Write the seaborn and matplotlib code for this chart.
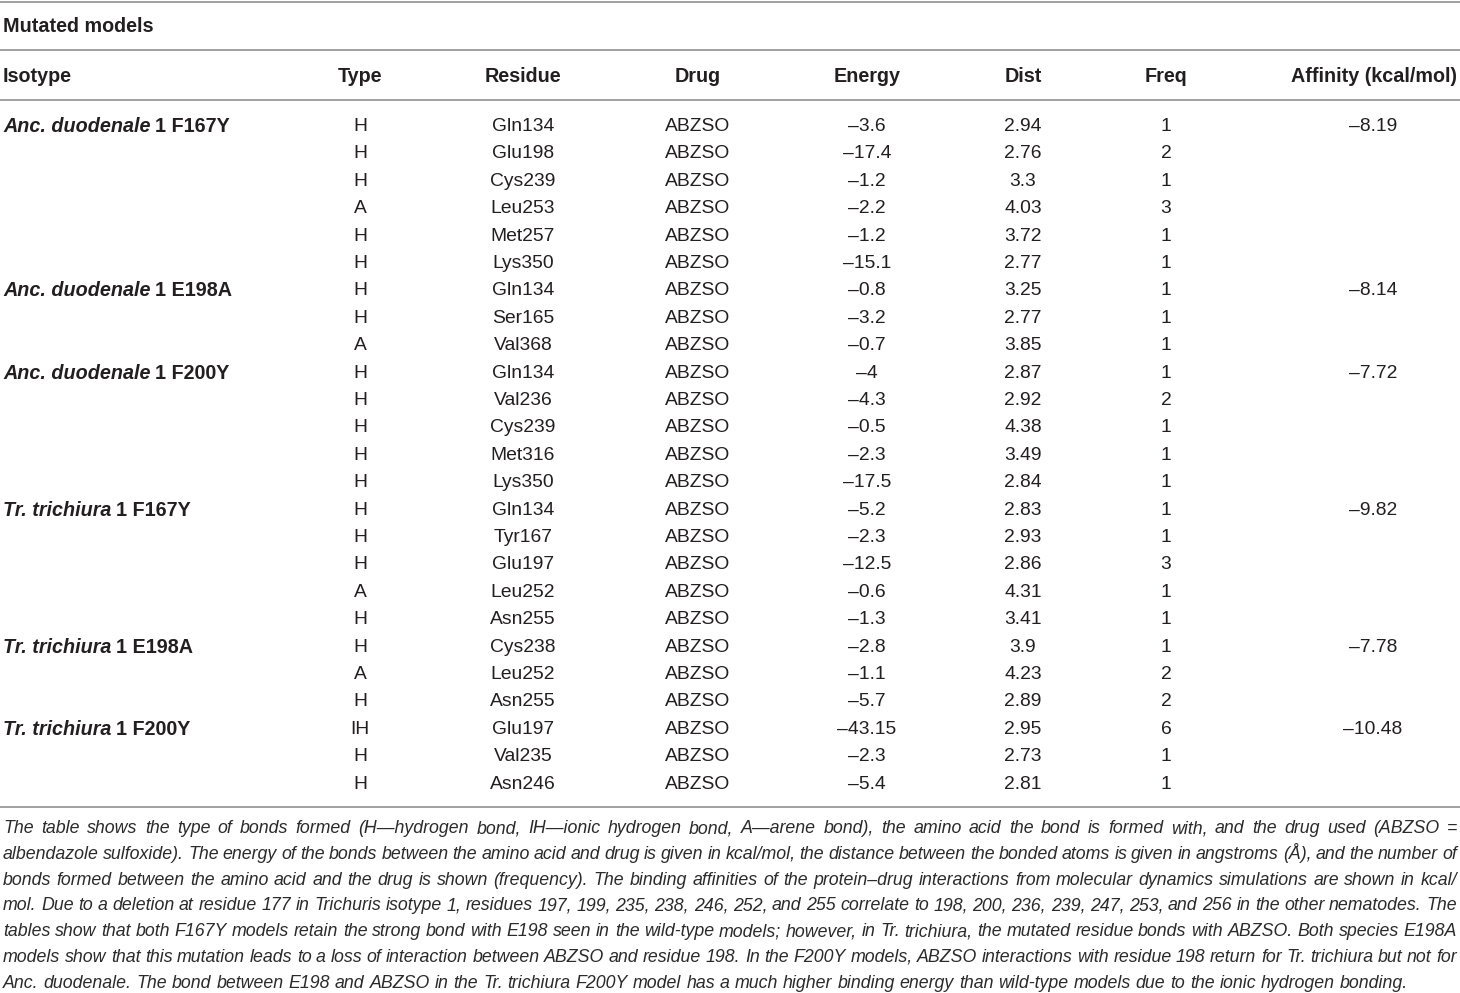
import matplotlib
matplotlib.use("Agg")
import matplotlib.pyplot as plt
import seaborn as sns
import pandas as pd

sns.set_theme(style="white")
plt.rcParams['font.family'] = ['Liberation Sans', 'DejaVu Sans']

# ---------------- data ----------------
title = "Mutated models"
columns = ["Isotype", "Type", "Residue", "Drug", "Energy", "Dist", "Freq", "Affinity (kcal/mol)"]
species = ["Anc. duodenale", "Anc. duodenale", "Anc. duodenale",
           "Tr. trichiura", "Tr. trichiura", "Tr. trichiura"]
isotype_suffix = ["1 F167Y", "1 E198A", "1 F200Y", "1 F167Y", "1 E198A", "1 F200Y"]
group_sizes = [6, 3, 5, 5, 3, 3]
affinity = [-8.19, -8.14, -7.72, -9.82, -7.78, -10.48]

bond_type = ["H", "H", "H", "A", "H", "H",
             "H", "H", "A",
             "H", "H", "H", "H", "H",
             "H", "H", "H", "A", "H",
             "H", "A", "H",
             "IH", "H", "H"]
residue = ["Gln134", "Glu198", "Cys239", "Leu253", "Met257", "Lys350",
           "Gln134", "Ser165", "Val368",
           "Gln134", "Val236", "Cys239", "Met316", "Lys350",
           "Gln134", "Tyr167", "Glu197", "Leu252", "Asn255",
           "Cys238", "Leu252", "Asn255",
           "Glu197", "Val235", "Asn246"]
drug = ["ABZSO"] * 25
energy = [-3.6, -17.4, -1.2, -2.2, -1.2, -15.1,
          -0.8, -3.2, -0.7,
          -4, -4.3, -0.5, -2.3, -17.5,
          -5.2, -2.3, -12.5, -0.6, -1.3,
          -2.8, -1.1, -5.7,
          -43.15, -2.3, -5.4]
dist = [2.94, 2.76, 3.3, 4.03, 3.72, 2.77,
        3.25, 2.77, 3.85,
        2.87, 2.92, 4.38, 3.49, 2.84,
        2.83, 2.93, 2.86, 4.31, 3.41,
        3.9, 4.23, 2.89,
        2.95, 2.73, 2.81]
freq = [1, 2, 1, 3, 1, 1,
        1, 1, 1,
        1, 2, 1, 1, 1,
        1, 1, 3, 1, 1,
        1, 2, 2,
        6, 1, 1]

caption_lines = [
    "The table shows the type of bonds formed (H\u2014hydrogen bond, IH\u2014ionic hydrogen bond, A\u2014arene bond), the amino acid the bond is formed with, and the drug used (ABZSO =",
    "albendazole sulfoxide). The energy of the bonds between the amino acid and drug is given in kcal/mol, the distance between the bonded atoms is given in angstroms (\u00c5), and the number of",
    "bonds formed between the amino acid and the drug is shown (frequency). The binding affinities of the protein\u2013drug interactions from molecular dynamics simulations are shown in kcal/",
    "mol. Due to a deletion at residue 177 in Trichuris isotype 1, residues 197, 199, 235, 238, 246, 252, and 255 correlate to 198, 200, 236, 239, 247, 253, and 256 in the other nematodes. The",
    "tables show that both F167Y models retain the strong bond with E198 seen in the wild-type models; however, in Tr. trichiura, the mutated residue bonds with ABZSO. Both species E198A",
    "models show that this mutation leads to a loss of interaction between ABZSO and residue 198. In the F200Y models, ABZSO interactions with residue 198 return for Tr. trichiura but not for",
    "Anc. duodenale. The bond between E198 and ABZSO in the Tr. trichiura F200Y model has a much higher binding energy than wild-type models due to the ionic hydrogen bonding.",
]

df = pd.DataFrame({"Type": bond_type, "Residue": residue, "Drug": drug,
                   "Energy": energy, "Dist": dist, "Freq": freq})


def fmt(v):
    return f"{v:g}".replace("-", "\u2013")


# ---------------- layout ----------------
W, H = 1460, 993
fig = plt.figure(figsize=(W / 100, H / 100), dpi=100)
ax = fig.add_axes([0, 0, 1, 1])
ax.set_xlim(0, W)
ax.set_ylim(H, 0)
ax.axis("off")
renderer = fig.canvas.get_renderer()

txt_col = "#231f20"
cap_col = "#2b2b2b"
rule_col = "#9a9a9a"
left, right = 3, 1457
fs_body = 13.9
fs_bold = 14.2

col_x = {"Type": 360, "Residue": 523, "Drug": 698, "Energy": 867,
         "Dist": 1023, "Freq": 1166}
aff_x = 1373

row0, pitch = 126.5, 27.4
header_y = 76.5
title_y = 26.8

for yy in (1.5, 50, 99.5, 806.5):
    ax.axhline(yy, color=rule_col, lw=1.3, xmin=0, xmax=1)

ax.text(left, title_y, title, fontsize=fs_bold, fontweight="bold",
        color=txt_col, ha="left", va="center")

# header
ax.text(left, header_y, columns[0], fontsize=fs_bold, fontweight="bold",
        color=txt_col, ha="left", va="center")
for c in ["Type", "Residue", "Drug", "Energy", "Dist", "Freq"]:
    ax.text(col_x[c], header_y, c, fontsize=fs_bold, fontweight="bold",
            color=txt_col, ha="center", va="center")
ax.text(right, header_y, columns[-1], fontsize=fs_bold, fontweight="bold",
        color=txt_col, ha="right", va="center")

# body rows
for i, row in df.iterrows():
    y = row0 + i * pitch
    for c in ["Type", "Residue", "Drug"]:
        ax.text(col_x[c], y, row[c], fontsize=fs_body, color=txt_col,
                ha="center", va="center")
    ax.text(col_x["Energy"], y, fmt(row["Energy"]), fontsize=fs_body,
            color=txt_col, ha="center", va="center")
    ax.text(col_x["Dist"], y, fmt(row["Dist"]), fontsize=fs_body,
            color=txt_col, ha="center", va="center")
    ax.text(col_x["Freq"], y, str(row["Freq"]), fontsize=fs_body,
            color=txt_col, ha="center", va="center")

# group labels
start = 0
for sp, suf, n, aff in zip(species, isotype_suffix, group_sizes, affinity):
    y = row0 + start * pitch
    t = ax.text(left, y, sp, fontsize=fs_bold, fontweight="bold",
                fontstyle="italic", color=txt_col, ha="left", va="center")
    bb = t.get_window_extent(renderer)
    ax.text(bb.x1 + 4.5, y, suf, fontsize=fs_bold, fontweight="bold",
            color=txt_col, ha="left", va="center")
    ax.text(aff_x, y, fmt(aff), fontsize=fs_body, color=txt_col,
            ha="center", va="center")
    start += n

# caption, justified with one common font size
cap_base0, cap_pitch = 833, 25.8
fs0 = 10.0
avail = right - left


def measure(s, fs):
    t = ax.text(0, 0, s, fontsize=fs, fontstyle="italic")
    w = t.get_window_extent(renderer).width
    t.remove()
    return w


sp0 = measure("a a", fs0) - measure("aa", fs0)
fit = []
for line in caption_lines[:-1]:
    words = line.split(" ")
    need = sum(measure(w, fs0) for w in words) + 0.8 * sp0 * (len(words) - 1)
    fit.append(fs0 * avail / need)
fs_cap = min(min(fit), 14.0)

for li, line in enumerate(caption_lines):
    yb = cap_base0 + li * cap_pitch
    words = line.split(" ")
    arts, widths = [], []
    for w in words:
        t = ax.text(0, yb, w, fontsize=fs_cap, fontstyle="italic", color=cap_col,
                    ha="left", va="baseline")
        arts.append(t)
        widths.append(t.get_window_extent(renderer).width)
    sp_w = sp0 * fs_cap / fs0
    if li == len(caption_lines) - 1:
        gap = sp_w
    else:
        gap = (avail - sum(widths)) / (len(words) - 1)
    x = left
    for a, w in zip(arts, widths):
        a.set_x(x)
        x += w + gap

fig.savefig("out.png", dpi=100, facecolor="white")
